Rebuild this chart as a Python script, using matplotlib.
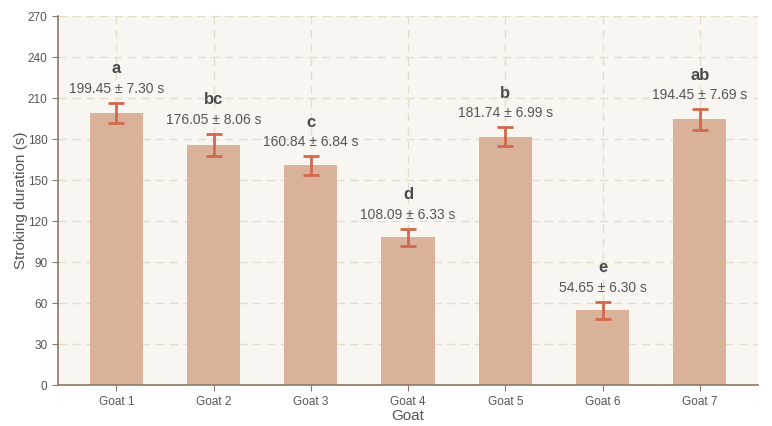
import matplotlib
matplotlib.use("Agg")
import matplotlib.pyplot as plt
import numpy as np

goats = ["Goat 1", "Goat 2", "Goat 3", "Goat 4", "Goat 5", "Goat 6", "Goat 7"]
means = [199.45, 176.05, 160.84, 108.09, 181.74, 54.65, 194.45]
errs = [7.30, 8.06, 6.84, 6.33, 6.99, 6.30, 7.69]
letters = ["a", "bc", "c", "d", "b", "e", "ab"]

plt.rcParams['font.family'] = ['Liberation Sans', 'DejaVu Sans']

fig = plt.figure(figsize=(7.72, 4.26), dpi=100)
ax = fig.add_axes([0.075, 0.096, 0.907, 0.866])
ax.set_facecolor('#f9f6f1')

x = np.arange(len(goats))
ax.bar(x, means, width=0.55, color='#d9b299', zorder=2)
ax.errorbar(x, means, yerr=errs, fmt='none', ecolor='#d0694f', elinewidth=2,
            capsize=5.5, capthick=2, zorder=3)

for xi, m, e, lab in zip(x, means, errs, letters):
    ax.annotate(f"{m:.2f} ± {e:.2f} s", (xi, m + e), xytext=(0, 5),
                textcoords='offset points', ha='center', va='bottom',
                fontsize=10, color='#555555')
    ax.annotate(lab, (xi, m + e), xytext=(0, 19), textcoords='offset points',
                ha='center', va='bottom', fontsize=12, fontweight='bold',
                color='#4a4a4a')

ax.set_xlim(-0.6, 6.6)
ax.set_ylim(0, 270)
ax.set_yticks(np.arange(0, 271, 30))
ax.set_xticks(x)
ax.set_xticklabels(goats)
ax.grid(True, linestyle=(0, (6, 4)), color='#e6dccb', linewidth=1, zorder=0)
ax.set_axisbelow(True)

for s in ['top', 'right']:
    ax.spines[s].set_visible(False)
for s in ['left', 'bottom']:
    ax.spines[s].set_color('#8c7a68')
    ax.spines[s].set_linewidth(1.2)
ax.tick_params(colors='#8c7a68', labelcolor='#555555', labelsize=8.5, length=4)

ax.set_xlabel("Goat", fontsize=11, color='#555555', labelpad=1)
ax.set_ylabel("Stroking duration (s)", fontsize=11, color='#555555', labelpad=0)

fig.savefig("out.png", dpi=100, facecolor='white')
